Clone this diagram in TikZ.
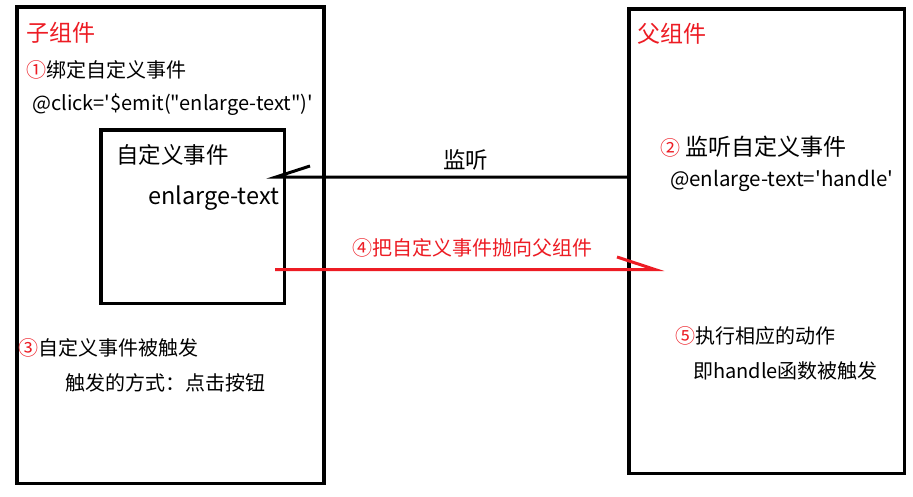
\documentclass[tikz,border=0pt]{standalone}
\usepackage{fontspec}
\newfontfamily\cjk{Noto Sans CJK SC}
\definecolor{pred}{HTML}{ED1C24}
\tikzset{
  frame/.style={draw=black, line width=3.6pt, inner sep=0pt},
  txt/.style={anchor=base west, inner sep=0pt, font=\cjk\fontsize{20}{24}\selectfont},
  big/.style={txt, font=\cjk\fontsize{22.5}{26}\selectfont},
  redtxt/.style={txt, text=pred},
  conn/.style={line width=3pt},
}
\begin{document}
\begin{tikzpicture}[x=1pt,y=-1pt]
\useasboundingbox (0,0) rectangle (913,496);
\fill[white] (0,0) rectangle (913,496);
% boxes
\draw[frame] (17,7) rectangle (324,483.5);
\draw[frame] (101,130) rectangle (284.5,303.5);
\draw[frame] (628.7,9) rectangle (904.5,473.5);
\coordinate (parentW) at (628.7,177);
\coordinate (tipB) at (276,177);
\coordinate (barbB) at (310,166);
\coordinate (startR) at (275,269.5);
\coordinate (tipR) at (655,269.5);
\coordinate (barbR) at (617,257);
% connectors
\draw[conn] (parentW) -- (tipB) -- (barbB);
\draw[conn, draw=pred] (startR) -- (tipR) -- (barbR);
% texts left
\node[txt, text=pred, font=\cjk\fontsize{23}{26}\selectfont] (t1) at (26,41) {子组件};
\node[txt] (t2) at (26,77.6) {\textcolor{pred}{①}绑定自定义事件};
\node[txt] (t3) at (32,110) {@click='\$emit("enlarge-text")'};
\node[big] (t4) at (116,163.5) {自定义事件};
\node[txt, font=\cjk\fontsize{23.5}{26}\selectfont] (t5) at (148,204) {enlarge-text};
\node[txt] (t6) at (18,355.6) {\textcolor{pred}{③}自定义事件被触发};
\node[txt] (t7) at (65,390.6) {触发的方式：点击按钮};
% middle
\node[big] (t8) at (443,168.5) {监听};
\node[redtxt] (t9) at (352,255) {④把自定义事件抛向父组件};
% right
\node[txt, text=pred, font=\cjk\fontsize{23}{26}\selectfont] (t10) at (637,42.7) {父组件};
\node[txt, font=\cjk\fontsize{23}{26}\selectfont] (t11) at (660,155.7) {\textcolor{pred}{\fontsize{20}{24}\selectfont ②} 监听自定义事件};
\node[txt, font=\cjk\fontsize{20.5}{24}\selectfont] (t12) at (670,186) {@enlarge-text='handle'};
\node[txt] (t13) at (675,343.6) {\textcolor{pred}{⑤}执行相应的动作};
\node[txt] (t14) at (693,378.6) {即handle函数被触发};
\end{tikzpicture}
\end{document}
